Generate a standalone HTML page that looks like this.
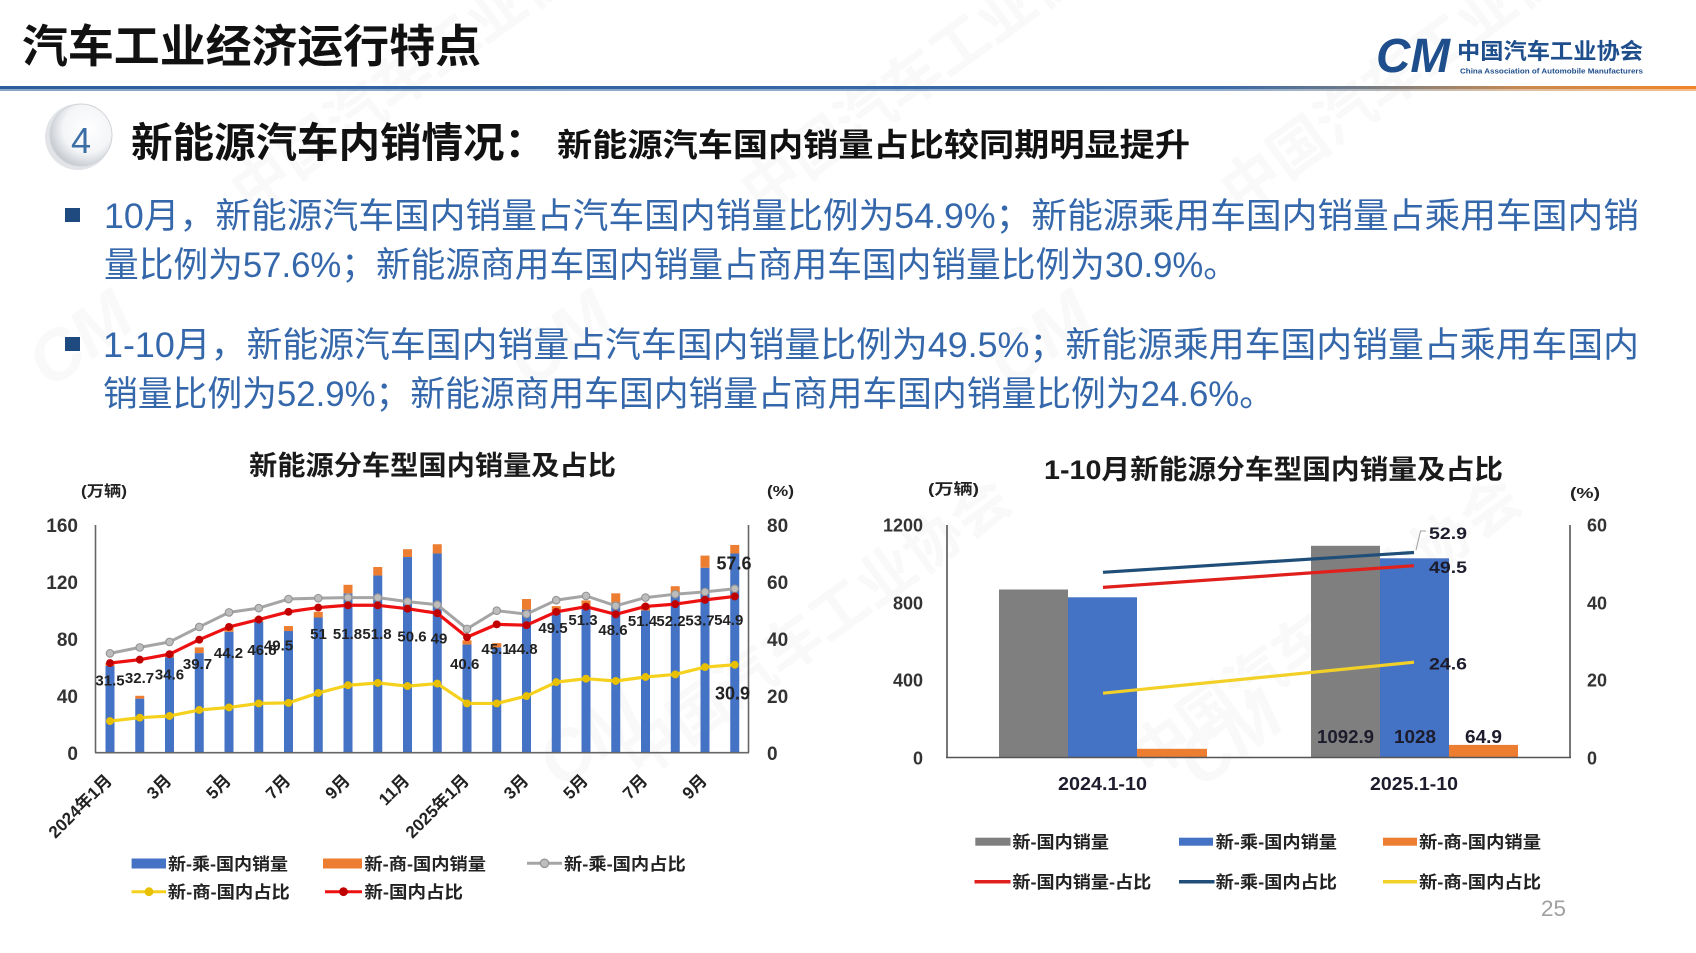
<!DOCTYPE html>
<html><head><meta charset="utf-8"><style>
html,body{margin:0;padding:0;background:#fff;}
svg{display:block;}
text{font-family:"Liberation Sans","Noto Sans CJK SC",sans-serif;}
.b{font-weight:bold;}
</style></head><body>
<svg width="1696" height="953" viewBox="0 0 1696 953" xmlns="http://www.w3.org/2000/svg">
<defs>
<linearGradient id="hl" x1="0" x2="1" y1="0" y2="0">
<stop offset="0" stop-color="#2d5d9c"/><stop offset="0.72" stop-color="#3a6aa8"/><stop offset="0.8" stop-color="#6f7a86"/><stop offset="0.9" stop-color="#c98a50"/><stop offset="1" stop-color="#f0862a"/>
</linearGradient>
<radialGradient id="cg" cx="0.6" cy="0.4" r="0.65">
<stop offset="0" stop-color="#ffffff"/><stop offset="0.6" stop-color="#f4f5f7"/><stop offset="1" stop-color="#c2c7cd"/>
</radialGradient>
<marker id="mg" viewBox="0 0 10 10" refX="5" refY="5" markerWidth="9" markerHeight="9" markerUnits="userSpaceOnUse"><circle cx="5" cy="5" r="4.2" fill="#bdbdbd" stroke="#939393" stroke-width="1.2"/></marker>
<marker id="mr" viewBox="0 0 10 10" refX="5" refY="5" markerWidth="9" markerHeight="9" markerUnits="userSpaceOnUse"><circle cx="5" cy="5" r="4.4" fill="#c00000"/></marker>
<marker id="my" viewBox="0 0 10 10" refX="5" refY="5" markerWidth="9" markerHeight="9" markerUnits="userSpaceOnUse"><circle cx="5" cy="5" r="4.4" fill="#e8c000"/></marker>
</defs>
<rect width="1696" height="953" fill="#ffffff"/>

<!-- watermarks -->
<g fill="#8a8a8a" opacity="0.055" class="b">
<text x="0" y="0" font-size="58" transform="translate(250,215) rotate(-36)">中国汽车工业协会</text>
<text x="0" y="0" font-size="58" transform="translate(760,215) rotate(-36)">中国汽车工业协会</text>
<text x="0" y="0" font-size="58" transform="translate(1240,215) rotate(-36)">中国汽车工业协会</text>
<text x="0" y="0" font-size="58" transform="translate(640,780) rotate(-36)">中国汽车工业协会</text>
<text x="0" y="0" font-size="58" transform="translate(1150,780) rotate(-36)">中国汽车工业协会</text>
<text x="0" y="0" font-size="70" font-style="italic" transform="translate(50,390) rotate(-36)">CM</text>
<text x="0" y="0" font-size="70" font-style="italic" transform="translate(530,390) rotate(-36)">CM</text>
<text x="0" y="0" font-size="70" font-style="italic" transform="translate(1010,390) rotate(-36)">CM</text>
<text x="0" y="0" font-size="70" font-style="italic" transform="translate(560,790) rotate(-36)">CM</text>
<text x="0" y="0" font-size="70" font-style="italic" transform="translate(1200,790) rotate(-36)">CM</text>
</g>

<!-- header -->
<text x="22" y="62" font-size="45" class="b" fill="#111" textLength="459" lengthAdjust="spacingAndGlyphs">汽车工业经济运行特点</text>
<text x="1376" y="72" font-size="48" class="b" font-style="italic" fill="#1f4e8c" textLength="74" lengthAdjust="spacingAndGlyphs">CM</text>
<text x="1457" y="59" font-size="22" class="b" fill="#1f4e8c" textLength="186" lengthAdjust="spacingAndGlyphs">中国汽车工业协会</text>
<text x="1460" y="73.5" font-size="7.5" class="b" fill="#1f4e8c" textLength="183" lengthAdjust="spacingAndGlyphs">China Association of Automobile Manufacturers</text>
<rect x="0" y="86" width="1696" height="3" fill="url(#hl)"/>
<rect x="0" y="89" width="1696" height="2" fill="url(#hl)" opacity="0.55"/>

<!-- section heading -->
<circle cx="78" cy="137" r="33" fill="#d5d9de" opacity="0.7"/>
<circle cx="81" cy="135" r="31" fill="url(#cg)" stroke="#d0d4d8" stroke-width="1"/>
<text x="81" y="153" font-size="36" fill="#3a6ea5" text-anchor="middle">4</text>
<text x="131" y="157" font-size="41" class="b" fill="#111" textLength="415" lengthAdjust="spacingAndGlyphs">新能源汽车内销情况：</text>
<text x="557" y="156" font-size="32" class="b" fill="#111" textLength="633" lengthAdjust="spacingAndGlyphs">新能源汽车国内销量占比较同期明显提升</text>

<!-- bullets -->
<rect x="65" y="208" width="15" height="14" fill="#1f4a80"/>
<text x="104" y="228" font-size="35" fill="#3567ab" textLength="1535" lengthAdjust="spacingAndGlyphs">10月，新能源汽车国内销量占汽车国内销量比例为54.9%；新能源乘用车国内销量占乘用车国内销</text>
<text x="104" y="277" font-size="35" fill="#3567ab" textLength="1134" lengthAdjust="spacingAndGlyphs">量比例为57.6%；新能源商用车国内销量占商用车国内销量比例为30.9%。</text>
<rect x="65" y="337" width="15" height="14" fill="#1f4a80"/>
<text x="103" y="357" font-size="35" fill="#3567ab" textLength="1536" lengthAdjust="spacingAndGlyphs">1-10月，新能源汽车国内销量占汽车国内销量比例为49.5%；新能源乘用车国内销量占乘用车国内</text>
<text x="103" y="406" font-size="35" fill="#3567ab" textLength="1171" lengthAdjust="spacingAndGlyphs">销量比例为52.9%；新能源商用车国内销量占商用车国内销量比例为24.6%。</text>

<!-- ================= LEFT CHART ================= -->
<text x="249" y="475" font-size="27" class="b" fill="#1a1a1a" textLength="367" lengthAdjust="spacingAndGlyphs">新能源分车型国内销量及占比</text>
<text x="81" y="496" font-size="15" class="b" fill="#222" textLength="46" lengthAdjust="spacingAndGlyphs">(万辆)</text>
<text x="767" y="496" font-size="15" class="b" fill="#222" textLength="27" lengthAdjust="spacingAndGlyphs">(%)</text>
<g font-size="19" class="b" fill="#333" text-anchor="end">
<text x="78" y="532">160</text><text x="78" y="589">120</text><text x="78" y="646">80</text><text x="78" y="703">40</text><text x="78" y="760">0</text>
</g>
<g font-size="19" class="b" fill="#333">
<text x="767" y="532">80</text><text x="767" y="589">60</text><text x="767" y="646">40</text><text x="767" y="703">20</text><text x="767" y="760">0</text>
</g>
<!-- bars blue -->
<g fill="#4472c4">
<rect x="105.5" y="665.90" width="9" height="86.80"/>
<rect x="135.25" y="698.63" width="9" height="54.07"/>
<rect x="165" y="657.36" width="9" height="95.34"/>
<rect x="194.75" y="653.09" width="9" height="99.61"/>
<rect x="224.5" y="631.74" width="9" height="120.96"/>
<rect x="254.25" y="621.78" width="9" height="130.92"/>
<rect x="284" y="631.03" width="9" height="121.67"/>
<rect x="313.75" y="617.51" width="9" height="135.19"/>
<rect x="343.5" y="593.32" width="9" height="159.38"/>
<rect x="373.25" y="575.54" width="9" height="177.16"/>
<rect x="403" y="557.04" width="9" height="195.66"/>
<rect x="432.75" y="553.48" width="9" height="199.22"/>
<rect x="462.5" y="644.55" width="9" height="108.15"/>
<rect x="492.25" y="647.40" width="9" height="105.30"/>
<rect x="522" y="609.69" width="9" height="143.01"/>
<rect x="551.75" y="611.82" width="9" height="140.88"/>
<rect x="581.5" y="606.13" width="9" height="146.57"/>
<rect x="611.25" y="602.57" width="9" height="150.13"/>
<rect x="641" y="610.40" width="9" height="142.30"/>
<rect x="670.75" y="595.46" width="9" height="157.24"/>
<rect x="700.5" y="567.71" width="9" height="184.99"/>
<rect x="730.25" y="553.48" width="9" height="199.22"/>
</g>
<g fill="#ed7d31">
<rect x="105.5" y="663.05" width="9" height="2.85"/>
<rect x="135.25" y="695.78" width="9" height="2.85"/>
<rect x="165" y="653.09" width="9" height="4.27"/>
<rect x="194.75" y="647.40" width="9" height="5.69"/>
<rect x="224.5" y="627.48" width="9" height="4.26"/>
<rect x="254.25" y="617.51" width="9" height="4.27"/>
<rect x="284" y="626.05" width="9" height="4.98"/>
<rect x="313.75" y="611.82" width="9" height="5.69"/>
<rect x="343.5" y="584.79" width="9" height="8.53"/>
<rect x="373.25" y="567.00" width="9" height="8.54"/>
<rect x="403" y="549.21" width="9" height="7.83"/>
<rect x="432.75" y="544.23" width="9" height="9.25"/>
<rect x="462.5" y="640.28" width="9" height="4.27"/>
<rect x="492.25" y="643.13" width="9" height="4.27"/>
<rect x="522" y="599.02" width="9" height="10.67"/>
<rect x="551.75" y="606.13" width="9" height="5.69"/>
<rect x="581.5" y="600.44" width="9" height="5.69"/>
<rect x="611.25" y="593.32" width="9" height="9.25"/>
<rect x="641" y="604.71" width="9" height="5.69"/>
<rect x="670.75" y="586.21" width="9" height="9.25"/>
<rect x="700.5" y="555.61" width="9" height="12.10"/>
<rect x="730.25" y="544.94" width="9" height="8.54"/>
</g>
<!-- axes -->
<g stroke="#666" stroke-width="1.6" fill="none">
<line x1="95.5" y1="525" x2="95.5" y2="752.7"/>
<line x1="748.5" y1="525" x2="748.5" y2="752.7"/>
<line x1="95" y1="752.7" x2="749" y2="752.7"/>
</g>
<!-- lines -->
<polyline fill="none" stroke="#a5a5a5" stroke-width="3" stroke-linejoin="round" marker-start="url(#mg)" marker-mid="url(#mg)" marker-end="url(#mg)" points="110,653.37 139.75,647.40 169.5,641.99 199.25,626.91 229,612.39 258.75,608.12 288.5,599.02 318.25,598.16 348,597.59 377.75,597.59 407.5,601.58 437.25,604.71 467,628.90 496.75,610.68 526.5,614.10 556.25,600.15 586,595.89 615.75,605.85 645.5,597.59 675.25,594.18 705,591.90 734.75,588.77"/>
<polyline fill="none" stroke="#f5d11e" stroke-width="3.2" stroke-linejoin="round" marker-start="url(#my)" marker-mid="url(#my)" marker-end="url(#my)" points="110,721.11 139.75,717.69 169.5,715.99 199.25,710.01 229,707.45 258.75,703.46 288.5,702.89 318.25,692.93 348,685.25 377.75,682.97 407.5,686.10 437.25,683.54 467,703.46 496.75,703.46 526.5,696.06 556.25,682.12 586,678.70 615.75,680.98 645.5,677.00 675.25,674.43 705,667.04 734.75,664.76"/>
<polyline fill="none" stroke="#ee1111" stroke-width="3.2" stroke-linejoin="round" marker-start="url(#mr)" marker-mid="url(#mr)" marker-end="url(#mr)" points="110,663.05 139.75,659.64 169.5,654.23 199.25,639.71 229,626.91 258.75,619.51 288.5,611.82 318.25,607.55 348,605.28 377.75,605.28 407.5,608.69 437.25,613.25 467,637.15 496.75,624.35 526.5,625.20 556.25,611.82 586,606.70 615.75,614.38 645.5,606.42 675.25,604.14 705,599.87 734.75,596.45"/>
<!-- data labels -->
<g font-size="15" class="b" fill="#222" text-anchor="middle">
<text x="110" y="685.5">31.5</text>
<text x="139.5" y="682.8">32.7</text>
<text x="169.5" y="679.5">34.6</text>
<text x="197.5" y="668.8">39.7</text>
<text x="228.5" y="658.2">44.2</text>
<text x="262" y="654.8">46.8</text>
<text x="278.5" y="650.5">49.5</text>
<text x="318.5" y="638.8">51</text>
<text x="347.5" y="638.8">51.8</text>
<text x="377" y="638.8">51.8</text>
<text x="412" y="641.5">50.6</text>
<text x="439" y="643.3">49</text>
<text x="464.7" y="668.8">40.6</text>
<text x="496" y="653.8">45.1</text>
<text x="523" y="653.8">44.8</text>
<text x="553" y="632.8">49.5</text>
<text x="583" y="624.8">51.3</text>
<text x="613" y="634.8">48.6</text>
<text x="642.5" y="626.2">51.4</text>
<text x="671" y="626.2">52.2</text>
<text x="700" y="625.5">53.7</text>
<text x="728.7" y="624.8">54.9</text>
</g>
<g font-size="18" class="b" fill="#222" text-anchor="middle">
<text x="734" y="569.5">57.6</text>
<text x="732.5" y="699.5">30.9</text>
</g>
<!-- x labels -->
<g font-size="17" class="b" fill="#222" text-anchor="end">
<text x="113" y="781.6" transform="rotate(-45 113 781.6)">2024年1月</text>
<text x="172.5" y="781.6" transform="rotate(-45 172.5 781.6)">3月</text>
<text x="232" y="781.6" transform="rotate(-45 232 781.6)">5月</text>
<text x="291.5" y="781.6" transform="rotate(-45 291.5 781.6)">7月</text>
<text x="351" y="781.6" transform="rotate(-45 351 781.6)">9月</text>
<text x="410.5" y="781.6" transform="rotate(-45 410.5 781.6)">11月</text>
<text x="470" y="781.6" transform="rotate(-45 470 781.6)">2025年1月</text>
<text x="529.5" y="781.6" transform="rotate(-45 529.5 781.6)">3月</text>
<text x="589" y="781.6" transform="rotate(-45 589 781.6)">5月</text>
<text x="648.5" y="781.6" transform="rotate(-45 648.5 781.6)">7月</text>
<text x="708" y="781.6" transform="rotate(-45 708 781.6)">9月</text>
</g>
<!-- left legend -->
<rect x="131.6" y="858.5" width="34.4" height="10" fill="#4472c4"/>
<text x="168" y="869.8" font-size="17" class="b" fill="#222" textLength="120" lengthAdjust="spacingAndGlyphs">新-乘-国内销量</text>
<rect x="323" y="858.5" width="39" height="10" fill="#ed7d31"/>
<text x="364.4" y="869.8" font-size="17" class="b" fill="#222" textLength="121.6" lengthAdjust="spacingAndGlyphs">新-商-国内销量</text>
<line x1="527" y1="863.3" x2="562" y2="863.3" stroke="#a5a5a5" stroke-width="3"/>
<circle cx="544.5" cy="863.3" r="4.2" fill="#bdbdbd" stroke="#939393" stroke-width="1.2"/>
<text x="564" y="869.8" font-size="17" class="b" fill="#222" textLength="121.7" lengthAdjust="spacingAndGlyphs">新-乘-国内占比</text>
<line x1="131.6" y1="891.7" x2="166" y2="891.7" stroke="#f5d11e" stroke-width="3"/>
<circle cx="149" cy="891.7" r="4.4" fill="#e8c000"/>
<text x="167.8" y="898.2" font-size="17" class="b" fill="#222" textLength="122" lengthAdjust="spacingAndGlyphs">新-商-国内占比</text>
<line x1="325" y1="891.7" x2="362" y2="891.7" stroke="#ee1111" stroke-width="3"/>
<circle cx="343.5" cy="891.7" r="4.4" fill="#c00000"/>
<text x="364.4" y="898.2" font-size="17" class="b" fill="#222" textLength="98.6" lengthAdjust="spacingAndGlyphs">新-国内占比</text>

<!-- ================= RIGHT CHART ================= -->
<text x="1044" y="479" font-size="27" class="b" fill="#1a1a1a" textLength="459" lengthAdjust="spacingAndGlyphs">1-10月新能源分车型国内销量及占比</text>
<text x="928" y="494" font-size="15" class="b" fill="#222" textLength="51" lengthAdjust="spacingAndGlyphs">(万辆)</text>
<text x="1570" y="498" font-size="15" class="b" fill="#222" textLength="30" lengthAdjust="spacingAndGlyphs">(%)</text>
<g font-size="18" class="b" fill="#333" text-anchor="end">
<text x="923" y="531.5">1200</text><text x="923" y="609.5">800</text><text x="923" y="686.5">400</text><text x="923" y="764.5">0</text>
</g>
<g font-size="18" class="b" fill="#333">
<text x="1587" y="531.5">60</text><text x="1587" y="609.5">40</text><text x="1587" y="686.5">20</text><text x="1587" y="764.5">0</text>
</g>
<rect x="999" y="589.5" width="69" height="168" fill="#7f7f7f"/>
<rect x="1068" y="597.3" width="69" height="160.2" fill="#4472c4"/>
<rect x="1137" y="748.8" width="70" height="8.7" fill="#ed7d31"/>
<rect x="1311" y="545.8" width="69" height="211.7" fill="#7f7f7f"/>
<rect x="1380" y="558.3" width="69" height="199.2" fill="#4472c4"/>
<rect x="1449" y="744.9" width="69" height="12.6" fill="#ed7d31"/>
<g stroke="#555" stroke-width="1.6" fill="none">
<line x1="947" y1="525" x2="947" y2="757.5"/>
<line x1="1570" y1="525" x2="1570" y2="757.5"/>
<line x1="946" y1="757.5" x2="1571" y2="757.5"/>
</g>
<line x1="1103" y1="572.3" x2="1414" y2="552.5" stroke="#1f4e79" stroke-width="3.2"/>
<line x1="1103" y1="587.4" x2="1414" y2="565.7" stroke="#e0201c" stroke-width="3.2"/>
<line x1="1103" y1="693.2" x2="1414" y2="662.2" stroke="#f2d027" stroke-width="3.2"/>
<polyline points="1416,550 1420.5,531 1426,531" fill="none" stroke="#a0a0a0" stroke-width="1"/>
<g font-size="17" class="b" fill="#1c1c2c">
<text x="1429" y="539" textLength="38" lengthAdjust="spacingAndGlyphs">52.9</text>
<text x="1429" y="573" textLength="38" lengthAdjust="spacingAndGlyphs">49.5</text>
<text x="1429" y="669.5" textLength="38" lengthAdjust="spacingAndGlyphs">24.6</text>
</g>
<g font-size="18" class="b" fill="#1c1c2c" text-anchor="middle">
<text x="1345.5" y="743" textLength="57" lengthAdjust="spacingAndGlyphs">1092.9</text>
<text x="1415" y="743" textLength="42" lengthAdjust="spacingAndGlyphs">1028</text>
<text x="1483.5" y="743" textLength="37" lengthAdjust="spacingAndGlyphs">64.9</text>
<text x="1102.5" y="790" textLength="89" lengthAdjust="spacingAndGlyphs">2024.1-10</text>
<text x="1414" y="790" textLength="88" lengthAdjust="spacingAndGlyphs">2025.1-10</text>
</g>
<!-- right legend -->
<rect x="975.3" y="837.7" width="35.2" height="8" fill="#7f7f7f"/>
<text x="1012.4" y="848.2" font-size="17" class="b" fill="#222" textLength="96.6" lengthAdjust="spacingAndGlyphs">新-国内销量</text>
<rect x="1179" y="837.7" width="34" height="8" fill="#4472c4"/>
<text x="1215.6" y="848.2" font-size="17" class="b" fill="#222" textLength="121.4" lengthAdjust="spacingAndGlyphs">新-乘-国内销量</text>
<rect x="1383" y="837.7" width="34" height="8" fill="#ed7d31"/>
<text x="1419" y="848.2" font-size="17" class="b" fill="#222" textLength="122" lengthAdjust="spacingAndGlyphs">新-商-国内销量</text>
<line x1="974.5" y1="881.7" x2="1010.5" y2="881.7" stroke="#e0201c" stroke-width="3.5"/>
<text x="1012.4" y="888.2" font-size="17" class="b" fill="#222" textLength="138.9" lengthAdjust="spacingAndGlyphs">新-国内销量-占比</text>
<line x1="1179" y1="881.7" x2="1214.5" y2="881.7" stroke="#1f4e79" stroke-width="3.5"/>
<text x="1215.6" y="888.2" font-size="17" class="b" fill="#222" textLength="121.4" lengthAdjust="spacingAndGlyphs">新-乘-国内占比</text>
<line x1="1383" y1="881.7" x2="1417" y2="881.7" stroke="#f2d027" stroke-width="3.5"/>
<text x="1419" y="888.2" font-size="17" class="b" fill="#222" textLength="122" lengthAdjust="spacingAndGlyphs">新-商-国内占比</text>

<text x="1541" y="916" font-size="22" fill="#a0a0a0" textLength="25" lengthAdjust="spacingAndGlyphs">25</text>
</svg>
</body></html>
